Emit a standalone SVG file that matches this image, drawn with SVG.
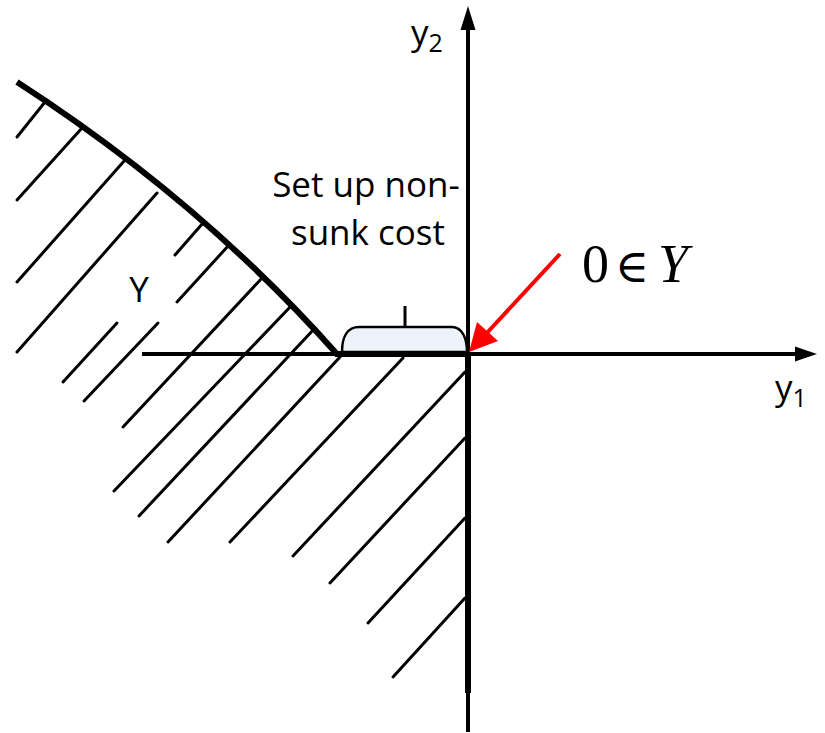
<svg xmlns="http://www.w3.org/2000/svg" width="825" height="733" viewBox="0 0 825 733">
<style>
.hatch{stroke:#000;stroke-width:3;stroke-linecap:round;fill:none}
.axis{stroke:#000;stroke-width:4;fill:none}
.bound{stroke:#000;stroke-width:6;fill:none}
.lbl{font-family:"Open Sans","Liberation Sans",sans-serif;font-size:35px;fill:#000}
.math{font-family:"Liberation Serif","DejaVu Serif",serif;fill:#000}
</style>
<rect width="825" height="733" fill="#fff"/>
<g id="hatching">
<line class="hatch" x1="45" y1="102" x2="17" y2="137"/>
<line class="hatch" x1="82" y1="128" x2="17" y2="200"/>
<line class="hatch" x1="125" y1="160" x2="17" y2="282"/>
<line class="hatch" x1="157" y1="193" x2="17" y2="352"/>
<line class="hatch" x1="203" y1="223" x2="175" y2="255"/>
<line class="hatch" x1="229" y1="245" x2="177" y2="302"/>
<line class="hatch" x1="263" y1="277" x2="123" y2="427"/>
<line class="hatch" x1="292" y1="305" x2="114" y2="491"/>
<line class="hatch" x1="315" y1="328" x2="139" y2="516"/>
<line class="hatch" x1="340" y1="357" x2="168" y2="542"/>
<line class="hatch" x1="403" y1="358" x2="230" y2="542"/>
<line class="hatch" x1="465" y1="372" x2="293" y2="556"/>
<line class="hatch" x1="465" y1="438" x2="330" y2="583"/>
<line class="hatch" x1="465" y1="518" x2="368" y2="623"/>
<line class="hatch" x1="465" y1="598" x2="393" y2="677"/>
<line class="hatch" x1="117" y1="323" x2="63" y2="382"/>
<line class="hatch" x1="158" y1="323" x2="84" y2="401"/>
</g>
<g id="connectors">
<line class="axis" x1="142" y1="354" x2="797" y2="354"/>
<polygon points="817,354 795,346.5 795,361.5" fill="#000"/>
<line class="axis" x1="468" y1="28" x2="468" y2="732"/>
<polygon points="468,6 460.5,30 475.5,30" fill="#000"/>
<line class="bound" x1="335" y1="354" x2="468" y2="354"/>
<line class="bound" x1="468" y1="354" x2="468" y2="693"/>
<line stroke="#ff0000" stroke-width="4" x1="560" y1="254" x2="485" y2="335"/>
<polygon points="469,352 477,322 498,341" fill="#ff0000"/>
</g>
<g id="frontier">
<path class="bound" d="M17,82 Q200,200 336,353"/>
</g>
<g id="setup-cost">
<path d="M342,352 C342,336 348,327 359,327 L452,327 C462,327 467,338 467,352 Z" fill="#edf3fb" stroke="#000" stroke-width="2.5"/>
<line x1="405" y1="306" x2="405" y2="328" stroke="#000" stroke-width="3"/>
<text class="lbl" x="366" y="197" text-anchor="middle">Set up non-</text>
<text class="lbl" x="368" y="245" text-anchor="middle">sunk cost</text>
</g>
<g id="labels">
<text class="lbl" x="139" y="302" text-anchor="middle" font-size="36">Y</text>
<text class="lbl" x="411" y="45" font-size="36">y<tspan font-size="25" dy="7">2</tspan></text>
<text class="lbl" x="775" y="400" font-size="36">y<tspan font-size="25" dy="7">1</tspan></text>
<text class="math" x="582" y="282" font-size="54">0</text>
<text class="math" x="615" y="282" font-size="46" font-family="DejaVu Serif">∈</text>
<text class="math" x="658" y="282" font-size="54" font-style="italic">Y</text>
</g>
</svg>
